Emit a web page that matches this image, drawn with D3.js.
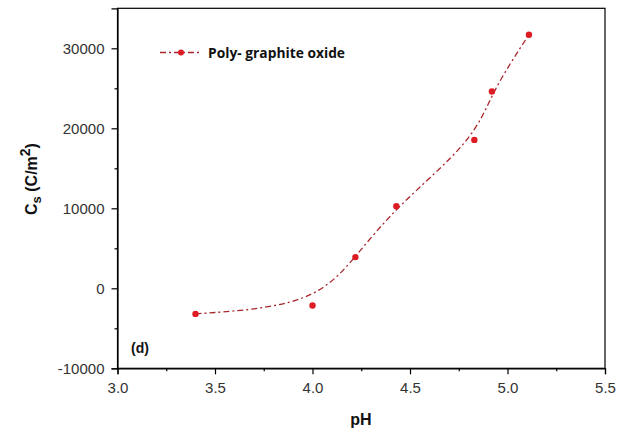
<!DOCTYPE html>
<html><head><meta charset="utf-8">
<script src="https://cdn.jsdelivr.net/npm/d3@7"></script>
<style>body{margin:0;background:#fff}</style>
</head><body>
<svg id="c" width="623" height="428"></svg>
<script>
const phValues = [3.40, 4.00, 4.22, 4.43, 4.83, 4.92, 5.11];
const csValues = [-3200, -2150, 3900, 10250, 18550, 24600, 31700];
const xTicks = [3.0, 3.5, 4.0, 4.5, 5.0, 5.5];
const yTicks = [-10000, 0, 10000, 20000, 30000];
const seriesName = "Poly- graphite oxide";
const panelLabel = "(d)";

const svg = d3.select("#c");
const L = 117.5, R = 605, T = 8.3, B = 368.3;
const x = d3.scaleLinear().domain([3.0, 5.5]).range([L, R]);
const y = d3.scaleLinear().domain([-10000, 35000]).range([B, T]);

const data = phValues.map((v, i) => ({x: v, y: csValues[i]}));
const lineCol = "#a8252b", ptCol = "#dd1c24";

svg.append("rect").attr("x", L).attr("y", T).attr("width", R - L).attr("height", B - T)
  .attr("fill", "none").attr("stroke", "#000").attr("stroke-width", 1.2);

const fontT = "'Liberation Sans', Arial, sans-serif";
const xa = svg.append("g").attr("transform", `translate(0,${B})`)
  .call(d3.axisBottom(x).tickValues(xTicks).tickFormat(d3.format(".1f")).tickSize(6).tickPadding(8));
xa.select(".domain").attr("stroke-width", 1.2);
xa.selectAll("text").attr("font-family", fontT).attr("font-size", 15).attr("fill", "#333");
svg.append("g").attr("transform", `translate(0,${B})`)
  .call(d3.axisBottom(x).tickValues(d3.range(3.25, 5.5, 0.5)).tickFormat("").tickSize(3))
  .select(".domain").remove();
const ya = svg.append("g").attr("transform", `translate(${L},0)`)
  .call(d3.axisLeft(y).tickValues(yTicks).tickFormat(d => String(d)).tickSize(6).tickPadding(7));
ya.select(".domain").attr("stroke-width", 1.2);
ya.selectAll("text").attr("font-family", fontT).attr("font-size", 15).attr("fill", "#333");
svg.append("g").attr("transform", `translate(${L},0)`)
  .call(d3.axisLeft(y).tickValues(d3.range(-5000, 35000, 10000)).tickFormat("").tickSize(3))
  .select(".domain").remove();
svg.selectAll(".tick line").attr("stroke-width", 1.2);

svg.append("path").datum(data)
  .attr("d", d3.line().x(d => x(d.x)).y(d => y(d.y)).curve(d3.curveBasis))
  .attr("fill", "none").attr("stroke", lineCol).attr("stroke-width", 1.3)
  .attr("stroke-dasharray", "6,3,2,3");
svg.selectAll("circle.p").data(data).join("circle").attr("class", "p")
  .attr("cx", d => x(d.x)).attr("cy", d => y(d.y)).attr("r", 3.2).attr("fill", ptCol);

svg.append("line").attr("x1", 160).attr("x2", 201).attr("y1", 52.5).attr("y2", 52.5)
  .attr("stroke", lineCol).attr("stroke-width", 1.3).attr("stroke-dasharray", "6,3,2,3");
svg.append("circle").attr("cx", 181).attr("cy", 52.5).attr("r", 3).attr("fill", ptCol);
svg.append("text").attr("x", 208).attr("y", 57.5).text(seriesName)
  .attr("font-family", "'Open Sans', sans-serif").attr("font-weight", "bold").attr("font-size", 13.8).attr("fill", "#111");

svg.append("text").attr("x", 131).attr("y", 353).text(panelLabel)
  .attr("font-family", fontT).attr("font-weight", "bold").attr("font-size", 14).attr("fill", "#111");

svg.append("text").attr("x", 361).attr("y", 425).attr("text-anchor", "middle").text("pH")
  .attr("font-family", fontT).attr("font-weight", "bold").attr("font-size", 16).attr("fill", "#111");
const yl = svg.append("text").attr("transform", "translate(37,179) rotate(-90)").attr("text-anchor", "middle")
  .attr("font-family", fontT).attr("font-weight", "bold").attr("font-size", 16).attr("fill", "#111");
yl.append("tspan").text("C");
yl.append("tspan").text("s").attr("font-size", 13).attr("dy", 4);
yl.append("tspan").text(" (C/m").attr("dy", -4);
yl.append("tspan").text("2").attr("font-size", 14).attr("dy", -7);
yl.append("tspan").text(")").attr("dy", 7);
</script>
</body></html>
